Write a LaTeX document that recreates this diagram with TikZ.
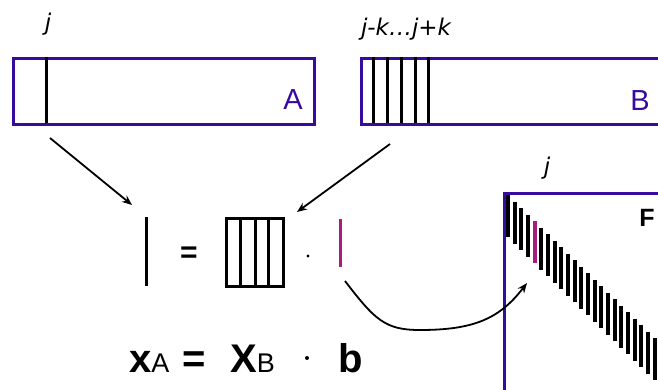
\documentclass[tikz,border=0pt]{standalone}
\usepackage{fontspec}
\setmainfont{Liberation Sans}
\newfontfamily\labelfont{DejaVu Sans}
\usetikzlibrary{arrows.meta}
\definecolor{framepurple}{RGB}{55,10,160}
\definecolor{bandmagenta}{RGB}{165,30,125}
\tikzset{
  mframe/.style={draw=framepurple, line width=2.8pt, inner sep=0pt, anchor=north west},
  mcol/.style  ={line width=3pt, black},
  mband/.style ={line width=4pt, black},
  mlink/.style ={-{Stealth[length=10pt, width=8pt]}, line width=1.8pt, black},
  mlabel/.style={font=\labelfont\fontsize{23}{25}\selectfont\itshape, inner sep=0pt},
  mname/.style ={font=\fontsize{29}{30}\selectfont, text=framepurple, inner sep=0pt},
  meq/.style   ={anchor=base west, inner sep=0pt},
}
\begin{document}
\begin{tikzpicture}[x=1pt, y=-1pt,
   big/.style={font=\fontsize{40}{40}\selectfont\bfseries},
   thickline/.style={line width=3pt}]
  \useasboundingbox (0,0) rectangle (658,389);
  \clip (0,0) rectangle (658,389);
  % the two source rows
  \node[mframe, minimum width=301pt, minimum height=66pt] (boxA) at (12,57) {};
  \node[mframe, minimum width=340pt, minimum height=66pt] (boxB) at (360,57) {};
  \draw[mcol] (46,57) -- (46,123);
  \foreach \x in {373,387,401,415,428}
    \draw[mcol] (\x,57) -- (\x,123);
  \node[mlabel] (jA) at (48,24) {j};
  \node[mlabel] (jB) at (406,29) {j-k\ldots j+k};
  \node[mname]  (nA) at (293,100) {A};
  \node[mname]  (nB) at (640,101) {B};
  % band matrix F
  \node[mframe, minimum width=200pt, minimum height=250pt] (boxF) at (503,192) {};
  \foreach \i in {0,...,22}
    \draw[mband] ({508+6.67*\i},{195+6.5*\i}) -- ++(0,42);
  \draw[mband, bandmagenta] ({508+6.67*4},{195+6.5*4}) -- ++(0,42);
  \node[mlabel] (jF) at (547,168) {j};
  \node[font=\fontsize{25}{26}\selectfont\bfseries, inner sep=0pt] (nF) at (647,218) {F};
  % the small system
  \draw[thickline] (146,217) -- (146,286);
  \node[font=\fontsize{30}{30}\selectfont\bfseries, inner sep=0pt] (eq1) at (189,255) {=};
  \draw[thickline] (226,218) rectangle (283,286);
  \foreach \x in {240,255,268}
    \draw[thickline] (\x,218) -- (\x,286);
  \fill (308,256) circle (1.6);
  \draw[line width=3pt, bandmagenta] (340,219) -- (340,267);
  % formula
  \node[meq] (xA) at (129,372) {{\bfseries\fontsize{40}{40}\selectfont x}{\fontsize{27}{27}\selectfont A}};
  \node[meq, big] (eq2) at (182,372) {=};
  \node[meq] (XB) at (230,372) {{\bfseries\fontsize{40}{40}\selectfont X}{\fontsize{27}{27}\selectfont B}};
  \fill (307,358) circle (2);
  \node[meq, big] (bb) at (338,372) {b};
  % arrows
  \coordinate (fromA) at (50,138);
  \coordinate (toX)   at (132,205);
  \coordinate (fromB) at (390,144);
  \coordinate (toM)   at (297,212);
  \coordinate (fromb) at (345,281);
  \coordinate (toF)   at (527,283);
  \draw[mlink] (fromA) -- (toX);
  \draw[mlink] (fromB) -- (toM);
  \draw[mlink] (fromb) .. controls (375,320) and (385,330) .. (420,330)
                       .. controls (475,330) and (500,318) .. (toF);
\end{tikzpicture}
\end{document}
